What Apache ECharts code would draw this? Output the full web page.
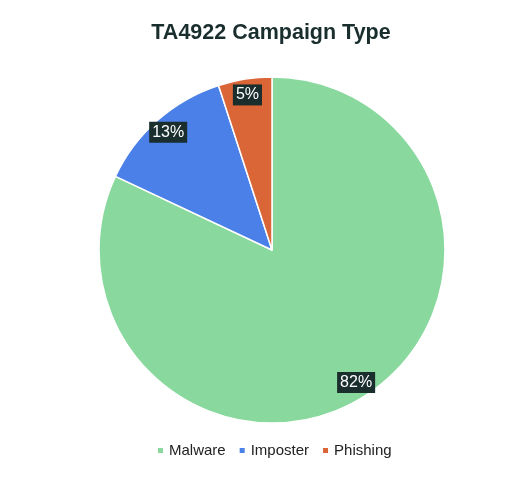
<!DOCTYPE html>
<html><head><meta charset="utf-8">
<script src="https://cdn.jsdelivr.net/npm/echarts@6/dist/echarts.min.js"></script>
<style>html,body{margin:0;padding:0;background:#fff}#c{width:524px;height:488px}</style>
</head><body><div id="c"></div>
<script>
const categories = ['Malware', 'Imposter', 'Phishing'];
const values = [82, 13, 5];
const colors = ['#89d99e', '#4a80e8', '#da6638'];

const data = categories.map((n, i) => ({ name: n, value: values[i], itemStyle: { color: colors[i] } }));
const labelData = categories.map((n, i) => ({ name: n, value: values[i] }));

const chart = echarts.init(document.getElementById('c'));
chart.setOption({
  animation: false,
  title: {
    text: 'TA4922 Campaign Type',
    left: 266, textAlign: 'center', top: 17,
    textStyle: { fontFamily: 'Liberation Sans', fontSize: 21.5, fontWeight: 'bold', color: '#1a2e2e' }
  },
  legend: {
    data: categories,
    top: 438, left: 151,
    itemWidth: 7, itemHeight: 7, itemGap: 12, icon: 'rect',
    textStyle: { fontFamily: 'Liberation Sans', fontSize: 15, color: '#222' }
  },
  series: [
    {
      type: 'pie', center: [272, 250], radius: [0, 173],
      startAngle: 90, clockwise: true,
      data: data,
      label: { show: false }, labelLine: { show: false },
      itemStyle: { borderColor: '#fff', borderWidth: 1.5 },
      emphasis: { disabled: true }
    },
    {
      type: 'pie', center: [272, 250], radius: [135, 173],
      startAngle: 90, clockwise: true, silent: true,
      data: labelData,
      itemStyle: { color: 'rgba(0,0,0,0)', borderWidth: 0 },
      labelLine: { show: false },
      label: {
        show: true, position: 'inside',
        formatter: p => Math.round(p.percent) + '%',
        color: '#fff', fontFamily: 'Liberation Sans', fontSize: 16,
        backgroundColor: '#1a2e2e', padding: [3, 3, 2, 3]
      },
      emphasis: { disabled: true }
    }
  ]
});
</script></body></html>
